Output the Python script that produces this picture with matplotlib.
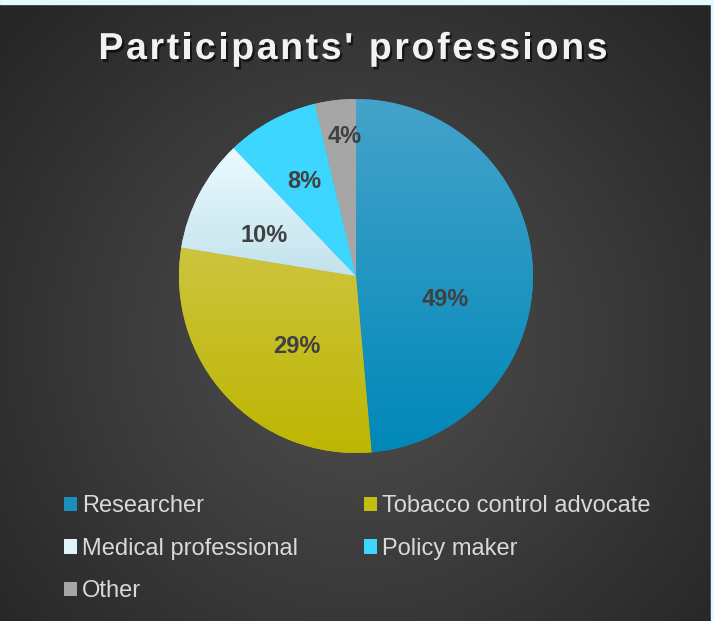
import numpy as np, matplotlib.pyplot as plt
from matplotlib.colors import LinearSegmentedColormap, to_rgb
from matplotlib import patheffects as pe
from matplotlib.patches import Rectangle

plt.rcParams["font.family"] = ["Liberation Sans", "DejaVu Sans"]

title = "Participants' professions"
categories = ["Researcher", "Tobacco control advocate", "Medical professional", "Policy maker", "Other"]
counts = [52, 31, 11, 9, 4]
# each slice is a vertical gradient: top shade -> bottom shade
top_colors = ["#45a3ca", "#cdc43f", "#ebfbff", "#3dd6ff", "#a6a6a6"]
bottom_colors = ["#0088b9", "#bdb600", "#c2e2ec", "#3dd6ff", "#a6a6a6"]
legend_colors = ["#1a8fbd", "#c4bc10", "#dff3f8", "#3dd6ff", "#a6a6a6"]
# label placement: angle shift from slice middle (deg), radius fraction
label_shift = [-17, 7, 4, 0, -2]
label_dist = [0.52, 0.52, 0.57, 0.61, 0.79]

W, H = 714, 621
fig = plt.figure(figsize=(W / 100, H / 100), dpi=100)

# --- dark radial background ---
bg = fig.add_axes([0, 0, 1, 1]); bg.axis("off")
yy, xx = np.mgrid[0:H, 0:W]
v = np.clip(np.hypot(xx - 357, yy - 340) / 470, 0, 1) ** 1.1
c0, c1 = np.array(to_rgb("#4e4e4e")), np.array(to_rgb("#262626"))
bg.imshow(c0 + (c1 - c0) * v[..., None], extent=(0, W, H, 0), aspect="auto")
bg.set_xlim(0, W); bg.set_ylim(H, 0)
fig.patches.append(Rectangle((0, 1 - 4 / H), 1, 4 / H, transform=fig.transFigure, color="#e5f7ff", zorder=5))
fig.patches.append(Rectangle((1 - 3 / W, 0), 3 / W, 1, transform=fig.transFigure, color="#e5f7ff", zorder=5))

# --- pie ---
ax = fig.add_axes([179 / W, 1 - 453 / H, 354 / W, 354 / H])
ax.patch.set_alpha(0)
wedges, _, pcts = ax.pie(counts, startangle=90, counterclock=False, autopct="%.0f%%",
                         colors=legend_colors, wedgeprops=dict(linewidth=0),
                         textprops=dict(fontsize=17, fontweight="bold", color="#404040"))
for i, w in enumerate(wedges):
    ys = w.get_path().vertices[:, 1]
    cm = LinearSegmentedColormap.from_list(f"g{i}", [bottom_colors[i], top_colors[i]])
    im = ax.imshow(np.linspace(0, 1, 256).reshape(-1, 1), extent=(-1, 1, ys.min(), ys.max()),
                   origin="lower", cmap=cm, aspect="auto", zorder=1.5)
    im.set_clip_path(w)
    a = np.deg2rad((w.theta1 + w.theta2) / 2 + label_shift[i])
    pcts[i].set_position((label_dist[i] * np.cos(a), label_dist[i] * np.sin(a)))
    pcts[i].set_zorder(3)
ax.set_xlim(-1, 1); ax.set_ylim(-1, 1); ax.set_aspect("equal"); ax.axis("off")

# --- title with letter spacing (drawn char by char) ---
r = fig.canvas.get_renderer()
tkw = dict(fontsize=27, fontweight="bold")
def tw(s):
    t = fig.text(0, 0, s + "|", **tkw); w_ = t.get_window_extent(r).width; t.remove()
    t = fig.text(0, 0, "|", **tkw); w_ -= t.get_window_extent(r).width; t.remove()
    return w_
spacing = 2.6
offs = [tw(title[:i]) + i * spacing for i in range(len(title))]
total = tw(title) + (len(title) - 1) * spacing
x0 = 353 - total / 2
for ch, o in zip(title, offs):
    if ch == " ":
        continue
    fig.text((x0 + o) / W, 1 - 59 / H, ch, ha="left", va="baseline", color="#f2f2f2", **tkw,
             path_effects=[pe.withSimplePatchShadow(offset=(1.5, -2), shadow_rgbFace="black", alpha=0.6)])

# --- legend (row-major order in 2 columns) ---
order = [0, 2, 4, 1, 3]
fig.legend([wedges[k] for k in order], [categories[k] for k in order], ncol=2,
           loc="upper left", bbox_to_anchor=(55 / W, 1 - 486 / H), frameon=False,
           fontsize=17, labelcolor="#d9d9d9", handlelength=0.55, handleheight=0.55,
           handletextpad=0.2, columnspacing=2.8, labelspacing=0.86, borderaxespad=0)

fig.savefig("out.png", dpi=100)
